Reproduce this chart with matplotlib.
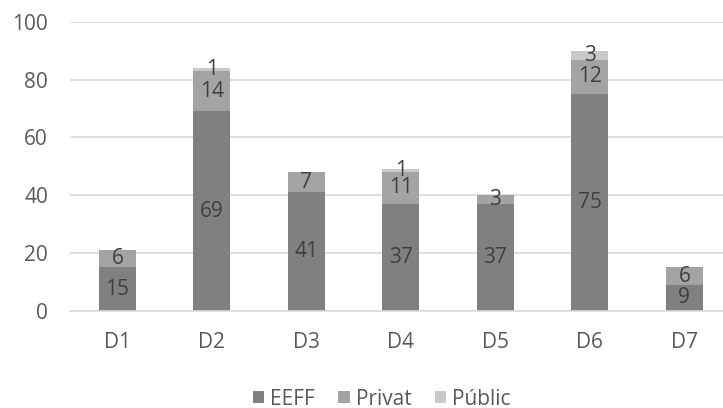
import matplotlib
matplotlib.use("Agg")
import matplotlib.pyplot as plt
import numpy as np

plt.rcParams['font.family'] = ['Open Sans', 'DejaVu Sans']

categories = ["D1", "D2", "D3", "D4", "D5", "D6", "D7"]
eeff = [15, 69, 41, 37, 37, 75, 9]
privat = [6, 14, 7, 11, 3, 12, 6]
public = [0, 1, 0, 1, 0, 3, 0]
series_names = ["EEFF", "Privat", "Públic"]
colors = ["#808080", "#a3a3a3", "#c9c9c9"]
text_color = "#595959"
fs = 15

fig = plt.figure(figsize=(7.23, 4.08), dpi=100)
ax = fig.add_axes([0.097, 0.2385, 0.915, 0.7076])

x = np.arange(len(categories))
w = 0.39
bottom = np.zeros(len(categories))
for vals, name, c in zip([eeff, privat, public], series_names, colors):
    vals = np.array(vals, dtype=float)
    ax.bar(x, vals, w, bottom=bottom, color=c, label=name, zorder=2)
    for xi, b, v in zip(x, bottom, vals):
        if v > 0:
            ax.text(xi, b + v / 2, f"{int(v)}", ha="center", va="center",
                    fontsize=fs, color="#404040", zorder=3)
    bottom += vals

ax.set_ylim(0, 100)
ax.set_xlim(-0.5, len(categories) - 0.5)
ax.set_yticks(range(0, 101, 20))
ax.set_xticks(x)
ax.set_xticklabels(categories)
ax.tick_params(axis="both", length=0, labelsize=fs, colors=text_color)
ax.tick_params(axis="y", pad=16)
ax.tick_params(axis="x", pad=15.5)
ax.yaxis.grid(True, color="#d9d9d9", linewidth=1.2, zorder=0)
for s in ["top", "right", "left"]:
    ax.spines[s].set_visible(False)
ax.spines["bottom"].set_color("#d9d9d9")
ax.spines["bottom"].set_linewidth(1.2)

leg = fig.legend(loc="center", bbox_to_anchor=(0.528, 0.022), ncol=3, frameon=False,
                 fontsize=fs, handlelength=0.55, handleheight=0.55, columnspacing=1.1,
                 handletextpad=0.3, labelcolor=text_color, borderpad=0)

fig.savefig("out.png", dpi=100)
